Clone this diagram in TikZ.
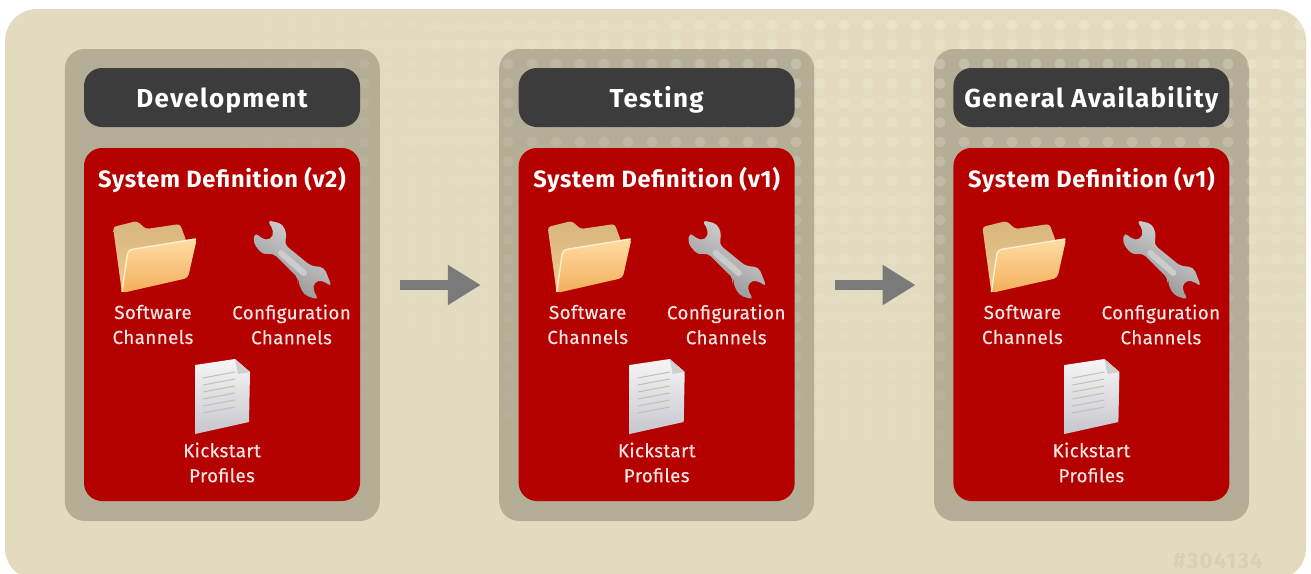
\documentclass[tikz,border=0pt]{standalone}
\usepackage{fontspec}
\setmainfont{Fira Sans}
\newfontfamily\headfont{Fira Sans}[LetterSpace=5]
\newfontfamily\sysfont{Fira Sans}[LetterSpace=3]
\newfontfamily\labelfont{Fira Sans}[FakeBold=0.35,LetterSpace=2]
\newfontfamily\markfont{Fira Sans}[LetterSpace=5]
\usetikzlibrary{arrows.meta}
\definecolor{bgc}{HTML}{E2DBBF}
\definecolor{panelc}{HTML}{B5AE97}
\definecolor{redc}{HTML}{B50000}
\definecolor{headc}{HTML}{3C3C3C}
\definecolor{arrowc}{HTML}{7A7A7A}
\definecolor{markc}{HTML}{D6D0B6}
\definecolor{foldbacktop}{HTML}{D9B57F}
\definecolor{foldbackbot}{HTML}{EFCB90}
\definecolor{foldfronttop}{HTML}{FFDDA4}
\definecolor{foldfrontbot}{HTML}{F3AE5A}
\definecolor{foldedge}{HTML}{FFEFD0}
\definecolor{wrenchlight}{HTML}{D8D8D8}
\definecolor{wrenchdark}{HTML}{8E8E8E}
\definecolor{wrenchmid}{HTML}{CCCCCC}
\definecolor{doctop}{HTML}{F6F6F6}
\definecolor{docbot}{HTML}{C6C6CE}
\definecolor{docline}{HTML}{C0C0B8}
\definecolor{docfold}{HTML}{CFCFCF}
\tikzset{
  x=0.5pt,y=-0.5pt,
  panelbox/.style={fill=panelc,rounded corners=10pt,minimum width=157.5pt,minimum height=236pt,inner sep=0pt},
  headbox/.style={fill=headc,rounded corners=9pt,minimum width=138pt,minimum height=29.5pt,inner sep=0pt},
  headtext/.style={text=white,inner sep=0pt,anchor=base,font=\headfont\bfseries\fontsize{13}{14}\selectfont},
  redbox/.style={fill=redc,rounded corners=9pt,minimum width=138pt,minimum height=176.5pt,inner sep=0pt},
  sysdef/.style={text=white,inner sep=0pt,anchor=base,font=\sysfont\bfseries\fontsize{11.8}{13}\selectfont},
  itemlabel/.style={text=white!90!redc,inner sep=0pt,align=center,font=\labelfont\fontsize{9.4}{12.5}\selectfont},
  flow/.style={arrowc,line width=5pt,-{Triangle[length=16.5pt,width=19pt]},shorten <=10pt,shorten >=9pt},
  markstyle/.style={text=markc,inner sep=0pt,font=\markfont\bfseries\fontsize{11.2}{12}\selectfont}
}
\newcommand{\foldericon}{%
  \shade[top color=foldbacktop,bottom color=foldbackbot,rounded corners=1.5pt]
    (113,227) -- (137,221) -- (146,229) -- (180,224) -- (186,240) -- (190,272) -- (122,293) -- cycle;
  \shade[top color=foldfronttop,bottom color=foldfrontbot,rounded corners=2pt]
    (128,250) -- (197,238) -- (188,278) -- (122,293) -- cycle;
  \draw[line width=.7pt,foldedge,rounded corners=2pt] (122,292) -- (128,250) -- (196,239);
}
\newcommand{\wrenchicon}{%
  \shade[top color=wrenchlight,bottom color=wrenchdark,shading angle=-30,rounded corners=2.4pt]
    (267,220) -- (283,224) -- (287,236) -- (284,244) -- (311,266) -- (324,267) -- (332,287)
    -- (322,280) -- (314,282) -- (313,290) -- (319,300) -- (304,295) -- (298,282) -- (299,279)
    -- (273,253) -- (263,255) -- (253,243) -- (255,232) -- (262,239) -- (271,240) -- (274,231) -- cycle;
  \draw[line width=3pt,wrenchmid,line cap=round] (281,253) -- (304,273);
}
\newcommand{\docicon}{%
  \shade[top color=doctop,bottom color=docbot]
    (195,365) -- (235,359) -- (250,372) -- (249,422) -- (195,434) -- cycle;
  \fill[docfold] (235,359) -- (238,374) -- (250,372) -- cycle;
  \foreach \k in {0,...,5}
    \draw[line width=.5pt,docline] (203,378+7*\k) -- (235,372+7*\k);
}
\begin{document}
\begin{tikzpicture}
\useasboundingbox (0,0) rectangle (1311,573);
% ground
\begin{scope}
  \clip (0,0) rectangle (1311,573);
  \fill[bgc,rounded corners=16pt] (5,9) rectangle (1306,580);
\end{scope}
% grey panels
\foreach \n/\ox in {1/-0.2,2/434.2,3/869}
  \node[panelbox] (p\n) at (222.5+\ox,285) {};
% dot screen
\begin{scope}
  \clip[rounded corners=16pt] (5,9) rectangle (1306,580);
  \foreach \r in {0,...,27}
    \foreach \c in {0,...,54}{
      \pgfmathsetmacro\dx{4+24*\c}
      \pgfmathsetmacro\dy{25+19.5*\r}
      \pgfmathsetmacro\da{0.24*min(1,max(0,(\dx-180)/650))*max(0,1-\dy/500)}
      \ifdim\da pt>0.012pt
        \fill[white,fill opacity=\da] (\dx,\dy) circle[radius=5.5];
      \fi
    }
\end{scope}
% stages
\foreach \n/\ox/\hd/\ver in {1/0/Development/v2,2/434.7/Testing/v1,3/869.4/General Availability/v1}{
  \node[headbox] (h\n) at (222+\ox,97.5) {};
  \node[headtext] (t\n) at (222+\ox,107.5) {\hd};
  \node[redbox] (r\n) at (222+\ox,324.5) {};
  \node[sysdef] (s\n) at (222+\ox,187) {System Definition (\ver)};
  \begin{scope}[shift={(\ox,0)}]
    \foldericon
    \wrenchicon
    \docicon
  \end{scope}
  \node[itemlabel] (a\n) at (153+\ox,324.5) {Software\\Channels};
  \node[itemlabel] (b\n) at (291.5+\ox,324.5) {Configuration\\Channels};
  \node[itemlabel] (c\n) at (222+\ox,462.5) {Kickstart\\Profiles};
}
% connectors
\draw[flow] (p1.east) -- (p2.west);
\draw[flow] (p2.east) -- (p3.west);
\node[markstyle] (mark) at (1218,561) {\#304134};
\end{tikzpicture}
\end{document}
